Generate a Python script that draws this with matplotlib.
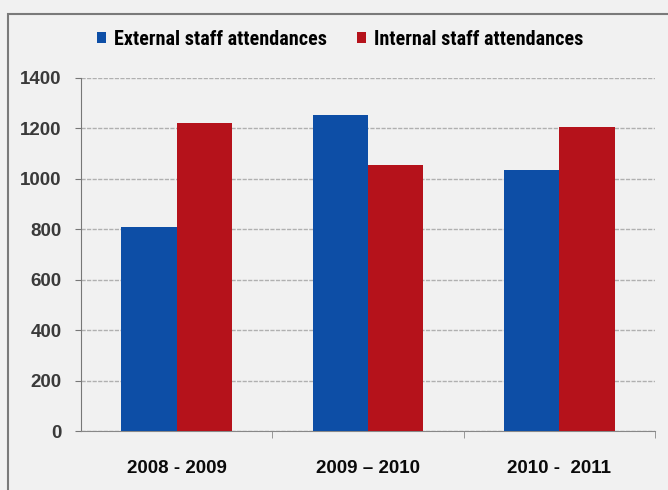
import matplotlib.pyplot as plt
import numpy as np
from matplotlib.patches import Rectangle

periods = ['2008 - 2009', '2009 \u2013 2010', '2010 -  2011']
external = [810, 1255, 1035]
internal = [1220, 1055, 1205]
yticks = [0, 200, 400, 600, 800, 1000, 1200, 1400]

plt.rcParams['font.family'] = ['Roboto Condensed', 'Liberation Sans', 'DejaVu Sans']

fig = plt.figure(figsize=(6.68, 4.90), dpi=100)
fig.patch.set_facecolor('#f1f1f1')
ax = fig.add_axes([81 / 668, 1 - 431 / 490, (655 - 81) / 668, (431 - 78) / 490])
ax.set_facecolor('none')

# frame round the chart, running off the right and bottom edges
fig.patches.append(Rectangle((8 / 668, -0.05), 1.0, 1 - 14 / 490 + 0.05,
                             transform=fig.transFigure, fill=False,
                             edgecolor='#7a7a7a', linewidth=1.5))

x = np.arange(len(periods))
w = 0.29
ax.bar(x - w / 2, external, w, color='#0d4ea6', label='External staff attendances', zorder=3)
ax.bar(x + w / 2, internal, w, color='#b5121b', label='Internal staff attendances', zorder=3)

ax.set_xlim(-0.5, 2.5)
ax.set_ylim(0, 1400)
ax.set_yticks(yticks)
ax.set_yticklabels([str(v) for v in yticks], fontsize=13.5, fontweight='bold',
                   color='#3a3a3a', family='Liberation Sans')
ax.yaxis.grid(True, color='#b0b0b0', linewidth=1, linestyle=(0, (3, 1)))
ax.set_xticks(x)
ax.set_xticklabels(periods, fontsize=13.5, fontweight='bold', color='#0a0a0a',
                   family='Liberation Sans')
ax.tick_params(axis='x', length=0, pad=21)
ax.set_xticks([0.5, 1.5, 2.5], minor=True)
ax.tick_params(axis='x', which='minor', length=5, color='#888888')
ax.tick_params(axis='y', length=4, color='#777777', pad=10)

for s in ['top', 'right']:
    ax.spines[s].set_visible(False)
ax.spines['left'].set_color('#777777')
ax.spines['bottom'].set_color('#888888')

fig.legend(loc='upper left', bbox_to_anchor=(91 / 668, 1 - 24 / 490), ncol=2,
           frameon=False, prop={'weight': 'bold', 'size': 14.5},
           handlelength=0.45, handleheight=0.45, handletextpad=0.4, columnspacing=1.5,
           borderaxespad=0, borderpad=0.3)

fig.savefig('out.png', dpi=100, facecolor=fig.get_facecolor())
